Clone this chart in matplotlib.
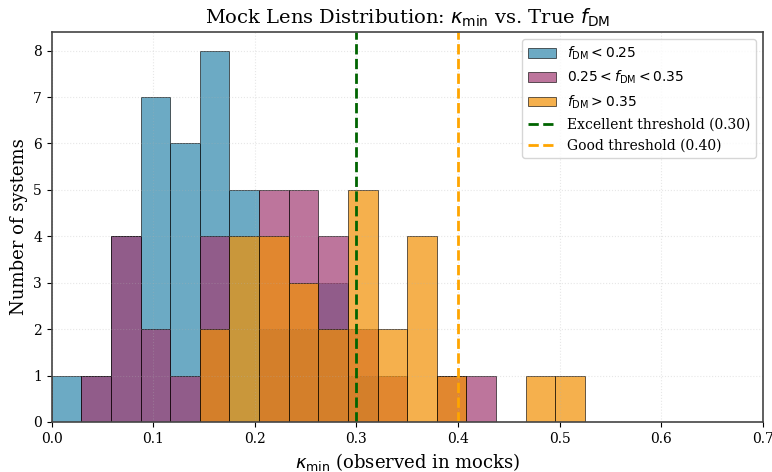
import numpy as np
import matplotlib
matplotlib.use("Agg")
import matplotlib.pyplot as plt

plt.rcParams["font.family"] = "DejaVu Serif"
plt.rcParams["mathtext.fontset"] = "dejavusans"

# histogram bin edges for kappa_min
bin_edges = np.linspace(0.0, 0.7, 25)
bin_centers = 0.5 * (bin_edges[:-1] + bin_edges[1:])

# counts per bin
counts_low = [1, 1, 4, 7, 6, 8, 5, 2, 2, 3, 1, 0, 0, 0, 0, 0, 0, 0, 0, 0, 0, 0, 0, 0]
counts_mid = [0, 1, 4, 2, 1, 4, 0, 5, 5, 4, 2, 1, 0, 1, 1, 0, 0, 0, 0, 0, 0, 0, 0, 0]
counts_high = [0, 0, 0, 0, 0, 2, 4, 4, 3, 2, 5, 2, 4, 1, 0, 0, 1, 1, 0, 0, 0, 0, 0, 0]

labels = [r"$f_{\rm DM} < 0.25$", r"$0.25 < f_{\rm DM} < 0.35$", r"$f_{\rm DM} > 0.35$"]
colors = ["#2E86AB", "#A23B72", "#F18F01"]

thresholds = [0.30, 0.40]
threshold_labels = ["Excellent threshold (0.30)", "Good threshold (0.40)"]
threshold_colors = ["darkgreen", "orange"]

fig, ax = plt.subplots(figsize=(7.72, 4.72), dpi=100)

for counts, lab, col in zip([counts_low, counts_mid, counts_high], labels, colors):
    ax.hist(bin_centers, bins=bin_edges, weights=counts, color=col, alpha=0.7,
            edgecolor="black", linewidth=0.6, label=lab)

for t, lab, col in zip(thresholds, threshold_labels, threshold_colors):
    ax.axvline(t, color=col, linestyle="--", linewidth=2, label=lab)

ax.set_xlim(0, 0.7)
ax.set_xlabel(r"$\kappa_{\rm min}$ (observed in mocks)", fontsize=13)
ax.set_ylabel("Number of systems", fontsize=13)
ax.set_title(r"Mock Lens Distribution: $\kappa_{\rm min}$ vs. True $f_{\rm DM}$", fontsize=14)
ax.grid(True, linestyle=":", alpha=0.3)
ax.legend(loc="upper right", fontsize=10)
for sp in ax.spines.values():
    sp.set_color("#444444")
    sp.set_linewidth(1.2)

plt.subplots_adjust(left=0.067, right=0.988, top=0.932, bottom=0.106)
fig.savefig("out.png", dpi=100)
